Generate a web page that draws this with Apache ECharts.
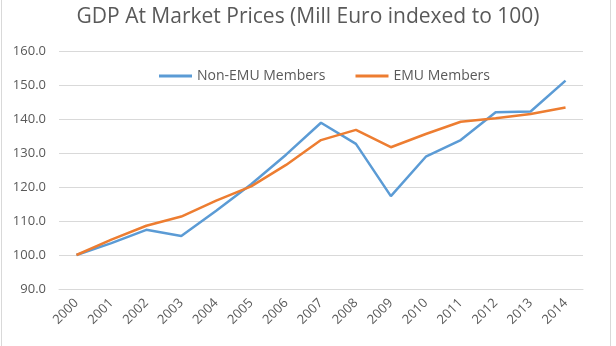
<!DOCTYPE html>
<html><head><meta charset="utf-8">
<script src="https://cdn.jsdelivr.net/npm/echarts@6/dist/echarts.min.js"></script>
<style>html,body{margin:0;padding:0;background:#fff}#c{width:616px;height:346px;position:relative}
#b{position:absolute;left:1px;top:-2px;width:610px;height:360px;border:1px solid #d9d9d9;box-sizing:border-box;pointer-events:none}</style>
</head><body><div id="c"></div><div id="b"></div>
<script>
const years = ['2000','2001','2002','2003','2004','2005','2006','2007','2008','2009','2010','2011','2012','2013','2014'];
const nonEmu = [100.0,103.5,107.4,105.6,113.0,120.8,129.5,138.9,132.7,117.3,128.9,133.8,142.0,142.2,151.3];
const emu = [100.0,104.5,108.6,111.3,116.0,120.2,126.5,133.8,136.8,131.7,135.6,139.2,140.2,141.5,143.4];
const yMin = 90, yMax = 160, yStep = 10;
const font = '"Open Sans", sans-serif';
const chart = echarts.init(document.getElementById('c'), null, {renderer:'canvas'});
chart.setOption({
  animation:false,
  title:{text:'GDP At Market Prices (Mill Euro indexed to 100)',left:'center',top:2,
    textStyle:{fontFamily:font,fontSize:21,fontWeight:'normal',color:'#595959'}},
  legend:{top:64,left:154,itemGap:30,itemWidth:33,itemHeight:3,icon:'rect',
    textStyle:{fontFamily:font,fontSize:14,color:'#595959'},
    data:['Non-EMU Members','EMU Members']},
  grid:{left:59,right:33,top:51,bottom:57,containLabel:false},
  xAxis:{type:'category',data:years,boundaryGap:true,
    axisLine:{lineStyle:{color:'#d9d9d9'}},axisTick:{show:false},
    axisLabel:{rotate:45,fontFamily:font,fontSize:13,color:'#595959',margin:12,interval:0}},
  yAxis:{type:'value',min:yMin,max:yMax,interval:yStep,
    axisLine:{show:false},axisTick:{show:false},
    splitLine:{lineStyle:{color:'#d9d9d9'}},
    axisLabel:{fontFamily:font,fontSize:13,color:'#595959',margin:13,formatter:v=>v.toFixed(1)}},
  series:[
    {name:'Non-EMU Members',type:'line',data:nonEmu,symbol:'none',lineStyle:{width:2.5,color:'#5B9BD5'},itemStyle:{color:'#5B9BD5'}},
    {name:'EMU Members',type:'line',data:emu,symbol:'none',lineStyle:{width:2.5,color:'#ED7D31'},itemStyle:{color:'#ED7D31'}}
  ]
});
</script></body></html>
